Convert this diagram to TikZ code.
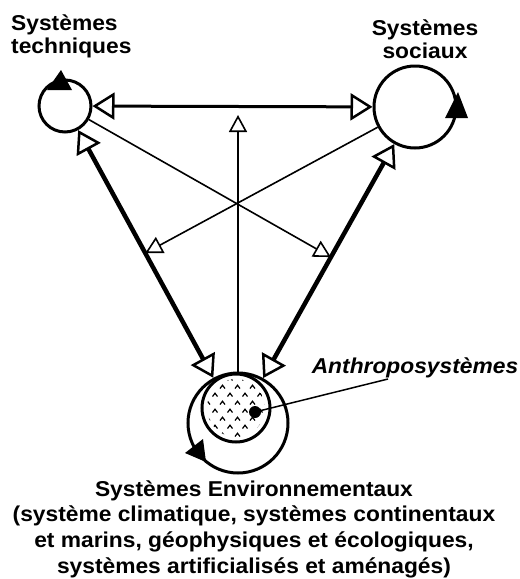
\documentclass[tikz,border=0pt]{standalone}
\usepackage{fontspec}
\setmainfont[FakeStretch=1.06]{Liberation Sans}
\usetikzlibrary{arrows.meta,calc}
\tikzset{
  sys/.style={circle, draw, line width=3pt, inner sep=0pt},
  lbl/.style={font=\fontsize{21.5}{23}\selectfont\bfseries, inner sep=0pt},
  fat/.style={line width=4.5pt, {Triangle[open, length=22pt, width=27pt, line width=2.5pt]}-{Triangle[open, length=22pt, width=27pt, line width=2.5pt]}},
  link/.style={line width=3pt, {Triangle[open, length=22pt, width=27pt, line width=2.5pt]}-{Triangle[open, length=22pt, width=27pt, line width=2.5pt]}},
  slim/.style={line width=1.6pt, -{Triangle[open, length=17pt, width=18pt, line width=1.6pt]}},
}
\begin{document}
\begin{tikzpicture}[x=1pt, y=-1pt, >=latex]
\useasboundingbox (0,0) rectangle (520,579);
% the three systems
\node[sys, minimum size=52pt] (tech) at (65,106) {};
\node[sys, minimum size=82pt] (soc) at (415,107) {};
\node[sys, minimum size=100pt] (env) at (238,423) {};
\node[sys, minimum size=68pt] (anthro) at (236,408) {};
% carets inside the anthroposystem
\begin{scope}
\clip (anthro) circle[radius=29pt];
\foreach \r in {0,...,9}
  \foreach \c in {0,...,6} {
    \pgfmathsetmacro\cx{200+\c*15+mod(\r,2)*7.5}
    \pgfmathsetmacro\cy{379+\r*8}
    \draw[line width=1.2pt] (\cx-2.5,\cy+1.5) -- (\cx,\cy-1.8) -- (\cx+2.5,\cy+1.5);
  }
\end{scope}
\node[circle, fill, inner sep=0pt, minimum size=12pt] (core) at (255,412) {};
% loops
\fill (47,90) -- (72,90) -- (61,70) -- cycle;
\fill (445,118) -- (468,118) -- (458,92) -- cycle;
\fill (185,453) -- (203,439) -- (206,462) -- cycle;
% labels
\node[lbl, align=left, anchor=west] (techlbl) at (11,36) {Systèmes\\techniques};
\node[lbl, align=center] (soclbl) at (425,39) {Systèmes\\sociaux};
\node[lbl, font=\fontsize{21.5}{23}\selectfont\bfseries\itshape] (anthrolbl) at (415,368) {Anthroposystèmes};
\node[lbl, align=center, font=\fontsize{21.5}{25.7}\selectfont\bfseries] (envlbl) at (254,529)
  {Systèmes Environnementaux\\(système climatique, systèmes continentaux\\et marins, géophysiques et écologiques,\\systèmes artificialisés et aménagés)};
% connectors
\coordinate (top) at (238,115);
\coordinate (lead) at (388,379);
\coordinate (tipL) at ($(tech)!0.464!(env)$);
\coordinate (tipR) at ($(soc)!0.475!(env)$);
\draw[link] (tech) -- (soc);
\draw[fat] (tech) -- (env);
\draw[fat] (soc) -- (env);
\draw[slim] (env.north) -- (top);
\draw[slim] (tech) -- (tipR);
\draw[slim] (soc) -- (tipL);
\draw[line width=1.5pt] (core.center) -- (lead);
\end{tikzpicture}
\end{document}
